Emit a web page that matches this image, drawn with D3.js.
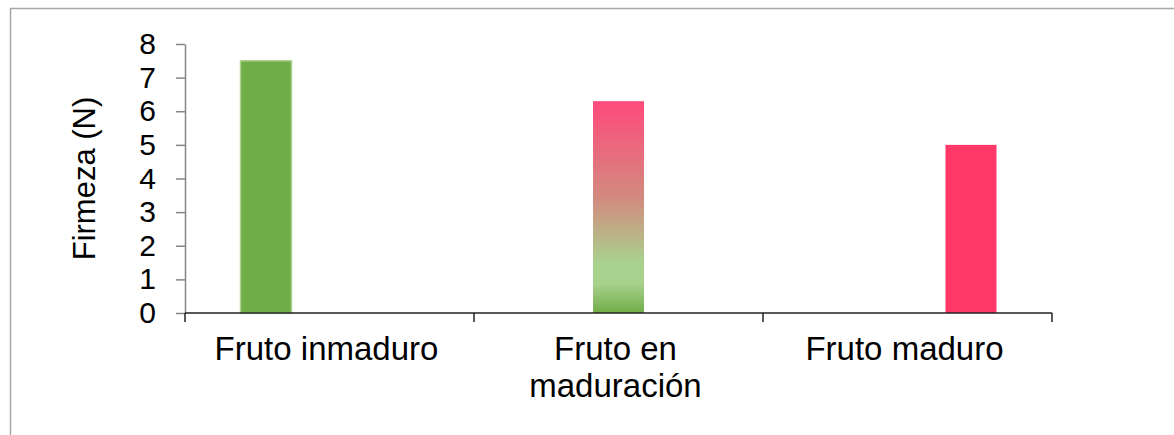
<!DOCTYPE html>
<html>
<head>
<meta charset="utf-8">
<script src="https://cdn.jsdelivr.net/npm/d3@7"></script>
<style>
  body { margin: 0; background: #fff; }
  text { font-family: "Liberation Sans", Arial, sans-serif; fill: #000; }
</style>
</head>
<body>
<div id="chart"></div>
<script>
var svgWidth = 1174;
var svgHeight = 435;

// Data
var categories = ["Fruto inmaduro", "Fruto en maduración", "Fruto maduro"];
var categoryLines = [["Fruto inmaduro"], ["Fruto en", "maduración"], ["Fruto maduro"]];
var seriesNames = ["inmaduro", "maduracion", "maduro"];
var inmaduroValues = [7.5, null, null];
var maduracionValues = [null, 6.3, null];
var maduroValues = [null, null, 5.0];
var yTicks = [0, 1, 2, 3, 4, 5, 6, 7, 8];

var seriesValues = [inmaduroValues, maduracionValues, maduroValues];

var margin = { top: 44, right: 122, bottom: 122, left: 185 };
var width = svgWidth - margin.left - margin.right;
var height = 313 - margin.top;

var svg = d3.select("#chart")
  .append("svg")
  .attr("width", svgWidth)
  .attr("height", svgHeight);

// frame of the chart area
svg.append("rect")
  .attr("x", 10.5)
  .attr("y", 8.5)
  .attr("width", 1200)
  .attr("height", 500)
  .attr("fill", "none")
  .attr("stroke", "#a6a6a6")
  .attr("stroke-width", 1.5);

// gradient for the middle bar
var defs = svg.append("defs");
var grad = defs.append("linearGradient")
  .attr("id", "ripening")
  .attr("x1", 0).attr("y1", 0)
  .attr("x2", 0).attr("y2", 1);
grad.append("stop").attr("offset", "0%").attr("stop-color", "#ff4a7c");
grad.append("stop").attr("offset", "45%").attr("stop-color", "#d3897e");
grad.append("stop").attr("offset", "76%").attr("stop-color", "#a9d18e");
grad.append("stop").attr("offset", "86%").attr("stop-color", "#a9d18e");
grad.append("stop").attr("offset", "100%").attr("stop-color", "#70ad47");

var fills = ["#70ad47", "url(#ripening)", "#ff3868"];
var strokes = ["#a9d18e", "none", "none"];

var chartGroup = svg.append("g")
  .attr("transform", `translate(${margin.left}, ${margin.top})`);

// Scales
var xScale = d3.scaleBand()
  .domain(categories)
  .range([0, width])
  .padding(0);

var xInner = d3.scaleBand()
  .domain(seriesNames)
  .range([0, xScale.bandwidth()])
  .paddingInner(0.197)
  .paddingOuter(0.874);

var yScale = d3.scaleLinear()
  .domain([0, 8])
  .range([height, 0]);

// Bars
seriesValues.forEach(function(values, s) {
  chartGroup.selectAll(".bar-" + s)
    .data(values.map((v, i) => ({ cat: categories[i], value: v })).filter(d => d.value !== null))
    .enter()
    .append("rect")
    .attr("class", "bar-" + s)
    .attr("x", d => xScale(d.cat) + xInner(seriesNames[s]))
    .attr("y", d => yScale(d.value))
    .attr("width", xInner.bandwidth())
    .attr("height", d => height - yScale(d.value))
    .attr("fill", fills[s])
    .attr("stroke", strokes[s])
    .attr("stroke-width", 1.5);
});

// Y axis
var leftAxis = d3.axisLeft(yScale)
  .tickValues(yTicks)
  .tickSize(9)
  .tickPadding(20)
  .tickSizeOuter(0);

var yAxisG = chartGroup.append("g").call(leftAxis);
yAxisG.select(".domain").attr("stroke", "#868686").attr("stroke-width", 1.5);
yAxisG.selectAll(".tick line").attr("stroke", "#868686").attr("stroke-width", 1.5);
yAxisG.selectAll(".tick text")
  .attr("font-size", "30px")
  .attr("font-family", "Liberation Sans, Arial, sans-serif")
  .attr("fill", "#000");

// X axis: ticks at category boundaries
var boundaries = categories.map(c => xScale(c)).concat([width]);
var xAxisG = chartGroup.append("g")
  .attr("transform", `translate(0, ${height})`);
xAxisG.append("line")
  .attr("x1", 0).attr("x2", width)
  .attr("y1", 0).attr("y2", 0)
  .attr("stroke", "#222").attr("stroke-width", 1.5);
xAxisG.selectAll(".xtick")
  .data(boundaries)
  .enter()
  .append("line")
  .attr("class", "xtick")
  .attr("x1", d => d).attr("x2", d => d)
  .attr("y1", 0).attr("y2", 9)
  .attr("stroke", "#222").attr("stroke-width", 1.5);

// Category labels
var labels = xAxisG.selectAll(".xlabel")
  .data(categories)
  .enter()
  .append("text")
  .attr("class", "xlabel")
  .attr("text-anchor", "middle")
  .attr("font-size", "33px")
  .attr("x", d => xScale(d) + xScale.bandwidth() / 2)
  .attr("y", 47);

labels.each(function(d, i) {
  var t = d3.select(this);
  categoryLines[i].forEach(function(line, j) {
    t.append("tspan")
      .attr("x", xScale(d) + xScale.bandwidth() / 2 - 3)
      .attr("dy", j === 0 ? 0 : 37)
      .text(line);
  });
});

// Y axis title
chartGroup.append("text")
  .attr("transform", `translate(${95 - margin.left}, ${height / 2}) rotate(-90)`)
  .attr("text-anchor", "middle")
  .attr("font-size", "31px")
  .text("Firmeza (N)");
</script>
</body>
</html>
